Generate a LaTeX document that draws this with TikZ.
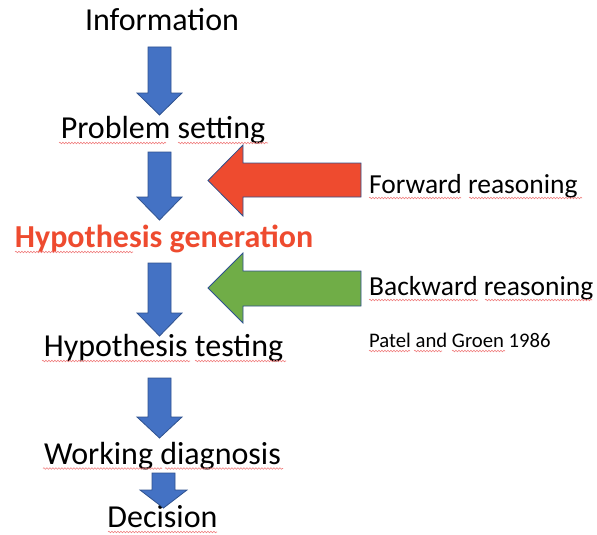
\documentclass[tikz,border=0pt]{standalone}
\usepackage{fontspec}
\setmainfont{Carlito}
\usetikzlibrary{decorations.pathmorphing}
\definecolor{officeblue}{HTML}{4472C4}
\definecolor{edgeblue}{HTML}{2F528F}
\definecolor{arrred}{HTML}{EE4B2F}
\definecolor{arrgreen}{HTML}{70AD47}
\definecolor{txtred}{HTML}{EE4B2F}
\definecolor{spellred}{HTML}{F08080}
\newcommand\bdarrow[6]{% cx, top, headstart, tip, halfshaft, halfhead
  \filldraw[blockarrow] (#1-#5,#2) -- (#1+#5,#2) -- (#1+#5,#3) -- (#1+#6,#3) -- (#1,#4) -- (#1-#6,#3) -- (#1-#5,#3) -- cycle;}
\newcommand\blarrow[8]{% tipx, tipy, headx, headtop, headbot, shafttop, shaftbot, right
  \filldraw (#1,#2) -- (#3,#4) -- (#3,#6) -- (#8,#6) -- (#8,#7) -- (#3,#7) -- (#3,#5) -- cycle;}
\tikzset{
  lbl/.style={anchor=base, inner sep=0pt, font=\fontsize{32}{38}\selectfont},
  side/.style={anchor=base west, inner sep=0pt, font=\fontsize{27.5}{33}\selectfont},
  blockarrow/.style={fill=officeblue, draw=edgeblue, line width=0.8pt},
  spell/.style={draw=spellred, line width=0.6pt, decorate, decoration={snake, amplitude=0.8pt, segment length=3pt}},
}
\begin{document}
\begin{tikzpicture}[x=1pt,y=-1pt]
\useasboundingbox (0,0) rectangle (597,535);
% labels
\node[lbl] (info) at (162,31) {Information};
\node[lbl] (prob) at (163,138) {Problem setting};
\node[lbl, text=txtred, font=\fontsize{32}{38}\selectfont\bfseries] (hgen) at (164,247) {Hypothesis generation};
\node[lbl] (htest) at (163.5,356) {Hypothesis testing};
\node[lbl] (work) at (162.5,464) {Working diagnosis};
\node[lbl] (dec) at (162.5,527.5) {Decision};
\node[side] (fwd) at (369,193) {Forward reasoning};
\node[side] (bwd) at (369,295) {Backward reasoning};
\node[anchor=base west, inner sep=0pt, font=\fontsize{20.7}{25}\selectfont] (ref) at (369,347) {Patel and Groen 1986};
% blue arrows
\bdarrow{159.5}{47}{93}{115}{11.5}{22.5}
\bdarrow{159.5}{152}{197}{220}{11.5}{22.5}
\bdarrow{159.5}{263}{313}{336}{11.5}{22.5}
\bdarrow{159.5}{378}{417}{438}{11.5}{22.5}
\bdarrow{163.5}{473}{490}{508}{11.5}{23.5}
% side arrows
\begin{scope}[fill=arrred, draw=edgeblue, line width=0.8pt]
\blarrow{208}{180.5}{243}{145}{216}{163}{197}{361}
\end{scope}
\begin{scope}[fill=arrgreen, draw=edgeblue, line width=0.8pt]
\blarrow{208}{288}{243}{253}{323}{271}{306}{361}
\end{scope}
% spell-check underlines
\draw[spell] (59,143) -- (166,143);
\draw[spell] (178,143) -- (268,143);
\draw[spell] (15,252) -- (133,252);
\draw[spell] (42,361) -- (190,361);
\draw[spell] (195,361) -- (286,361);
\draw[spell] (43,468.5) -- (162,468.5);
\draw[spell] (165,468.5) -- (283,468.5);
\draw[spell] (108,532) -- (217,532);
\draw[spell] (369,198) -- (461,198);
\draw[spell] (469,198) -- (582,198);
\draw[spell] (369,300) -- (478,300);
\draw[spell] (485,300) -- (592,300);
\draw[spell] (369,351) -- (410,351);
\draw[spell] (414,351) -- (442,351);
\draw[spell] (452,351) -- (505,351);
\end{tikzpicture}
\end{document}
